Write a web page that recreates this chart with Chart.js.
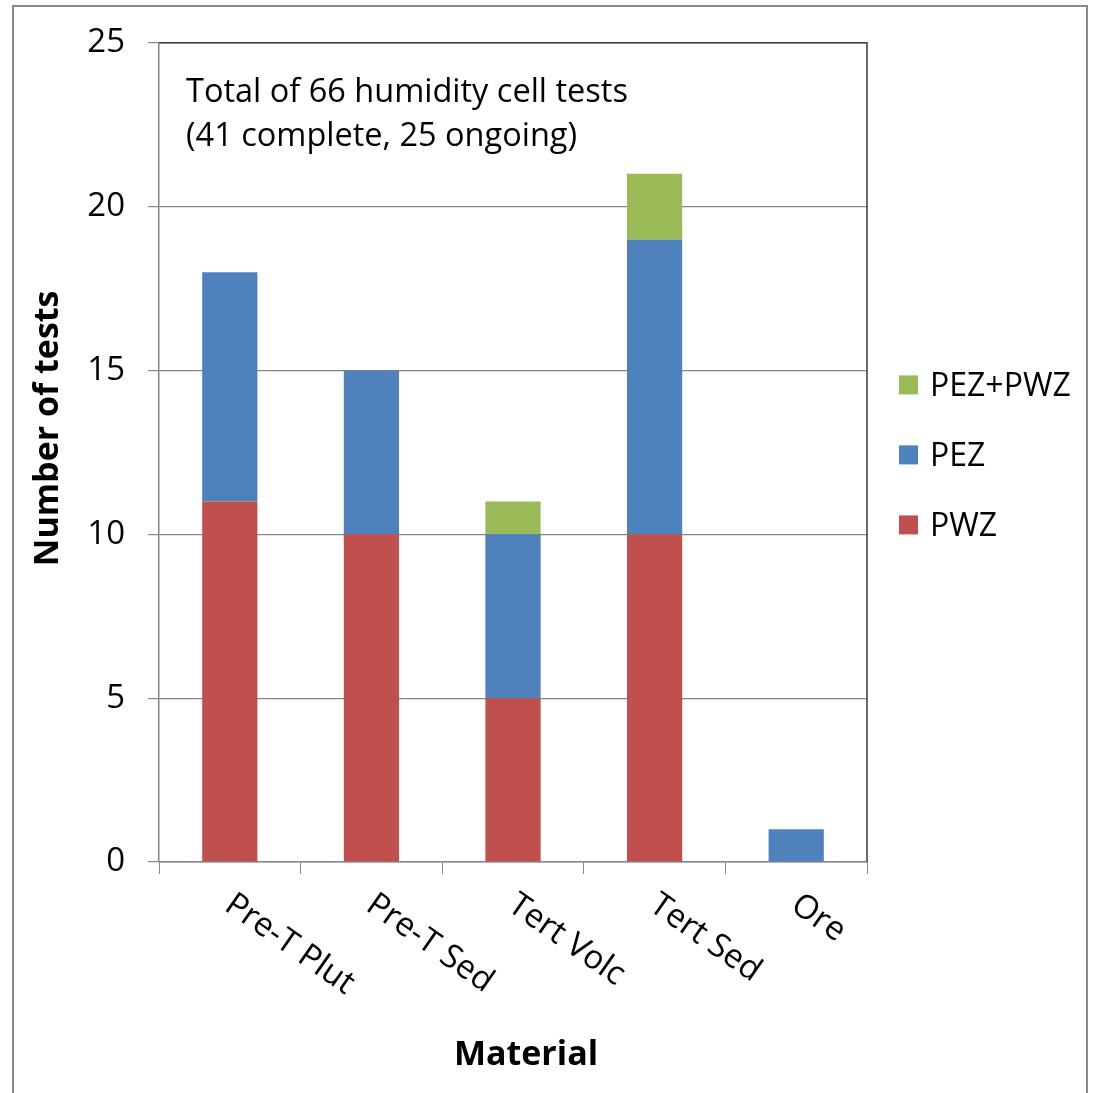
<!DOCTYPE html>
<html>
<head>
<meta charset="utf-8">
<script src="https://cdn.jsdelivr.net/npm/chart.js@4"></script>
<style>
  html, body { margin: 0; padding: 0; background: #fff; }
  #wrap { width: 1095px; height: 1093px; }
</style>
</head>
<body>
<div id="wrap"><canvas id="chartTests"></canvas></div>
<script>
// Datos del gráfico
const categorias = ['Pre-T Plut', 'Pre-T Sed', 'Tert Volc', 'Tert Sed', 'Ore'];
const valoresPWZ = [11, 10, 5, 10, 0];
const valoresPEZ = [7, 5, 5, 9, 1];
const valoresAmbos = [0, 0, 1, 2, 0];
const ticksY = [0, 5, 10, 15, 20, 25];
const notaLineas = ['Total of 66 humidity cell tests', '(41 complete, 25 ongoing)'];
const tituloX = 'Material';
const tituloY = 'Number of tests';

const FUENTE = '"Open Sans", "DejaVu Sans", sans-serif';
const GRIS = '#868686';

Chart.defaults.font.family = FUENTE;
Chart.defaults.color = '#000';

// Marco exterior y borde del área de trazado
const marcoPlugin = {
  id: 'marco',
  beforeDraw(chart) {
    const ctx = chart.ctx;
    ctx.save();
    ctx.fillStyle = '#fff';
    ctx.fillRect(0, 0, chart.width, chart.height);
    ctx.strokeStyle = '#8c8c8c';
    ctx.lineWidth = 2;
    ctx.strokeRect(13, 6, chart.width - 21, chart.height + 20);
    ctx.restore();
  },
  afterDatasetsDraw(chart) {
    const { ctx, chartArea } = chart;
    ctx.save();
    ctx.strokeStyle = '#3a3a3a';
    ctx.lineWidth = 1.5;
    ctx.beginPath();
    ctx.moveTo(chartArea.left, chartArea.top);
    ctx.lineTo(chartArea.right, chartArea.top);
    ctx.lineTo(chartArea.right, chartArea.bottom);
    ctx.stroke();
    ctx.restore();
  }
};

// Etiquetas del eje X giradas, títulos de ejes, nota y leyenda
const textosPlugin = {
  id: 'textos',
  afterDraw(chart) {
    const { ctx, chartArea } = chart;
    const x = chart.scales.x;
    ctx.save();
    ctx.fillStyle = '#000';
    ctx.font = '33px ' + FUENTE;
    ctx.textAlign = 'left';
    ctx.textBaseline = 'top';
    categorias.forEach((cat, i) => {
      ctx.save();
      ctx.translate(x.getPixelForValue(i) + 8, chartArea.bottom + 26);
      ctx.rotate(35 * Math.PI / 180);
      ctx.fillText(cat, 0, 0);
      ctx.restore();
    });

    ctx.textBaseline = 'alphabetic';
    ctx.font = '32.5px ' + FUENTE;
    notaLineas.forEach((linea, i) => {
      ctx.fillText(linea, chartArea.left + 27, chartArea.top + 59 + i * 44);
    });

    // Títulos de ejes
    ctx.font = 'bold 34px ' + FUENTE;
    ctx.textAlign = 'center';
    ctx.textBaseline = 'middle';
    ctx.fillText(tituloX, (chartArea.left + chartArea.right) / 2 + 13, 1055);
    ctx.save();
    ctx.translate(48, (chartArea.top + chartArea.bottom) / 2 - 24);
    ctx.rotate(-Math.PI / 2);
    ctx.fillText(tituloY, 0, 0);
    ctx.restore();

    // Leyenda (orden inverso al apilado)
    const items = chart.data.datasets.map(d => ({ label: d.label, color: d.backgroundColor })).reverse();
    const centroY = (chartArea.top + chartArea.bottom) / 2;
    ctx.font = '32px ' + FUENTE;
    ctx.textAlign = 'left';
    ctx.textBaseline = 'middle';
    items.forEach((it, i) => {
      const cy = centroY - 67 + i * 70;
      ctx.fillStyle = it.color;
      ctx.fillRect(chartArea.right + 32, cy - 10, 19, 19);
      ctx.fillStyle = '#000';
      ctx.fillText(it.label, chartArea.right + 63, cy + 1);
    });
    ctx.restore();
  }
};

const config = {
  type: 'bar',
  data: {
    labels: categorias,
    datasets: [
      { label: 'PWZ', data: valoresPWZ, backgroundColor: '#C0504D' },
      { label: 'PEZ', data: valoresPEZ, backgroundColor: '#4F81BD' },
      { label: 'PEZ+PWZ', data: valoresAmbos, backgroundColor: '#9BBB59' }
    ]
  },
  options: {
    responsive: true,
    maintainAspectRatio: false,
    animation: false,
    datasets: { bar: { categoryPercentage: 1, barPercentage: 0.39 } },
    layout: { padding: { left: 0, top: 42, right: 228, bottom: 0 } },
    plugins: { legend: { display: false }, tooltip: { enabled: false } },
    scales: {
      x: {
        stacked: true,
        afterFit(scale) { scale.height = 231; },
        grid: { display: true, offset: true, drawOnChartArea: false, drawTicks: true, tickLength: 12, color: GRIS },
        border: { display: true, color: GRIS, width: 1.5 },
        ticks: { display: false }
      },
      y: {
        stacked: true,
        min: 0,
        max: 25,
        afterFit(scale) { scale.width = 159; },
        afterBuildTicks(scale) { scale.ticks = ticksY.map(v => ({ value: v })); },
        grid: { color: GRIS, lineWidth: 1.2, tickLength: 11, drawTicks: true },
        border: { display: true, color: GRIS, width: 1.5 },
        ticks: { padding: 23, font: { size: 33 }, color: '#000' }
      }
    }
  },
  plugins: [marcoPlugin, textosPlugin]
};

new Chart(document.getElementById('chartTests').getContext('2d'), config);
</script>
</body>
</html>
